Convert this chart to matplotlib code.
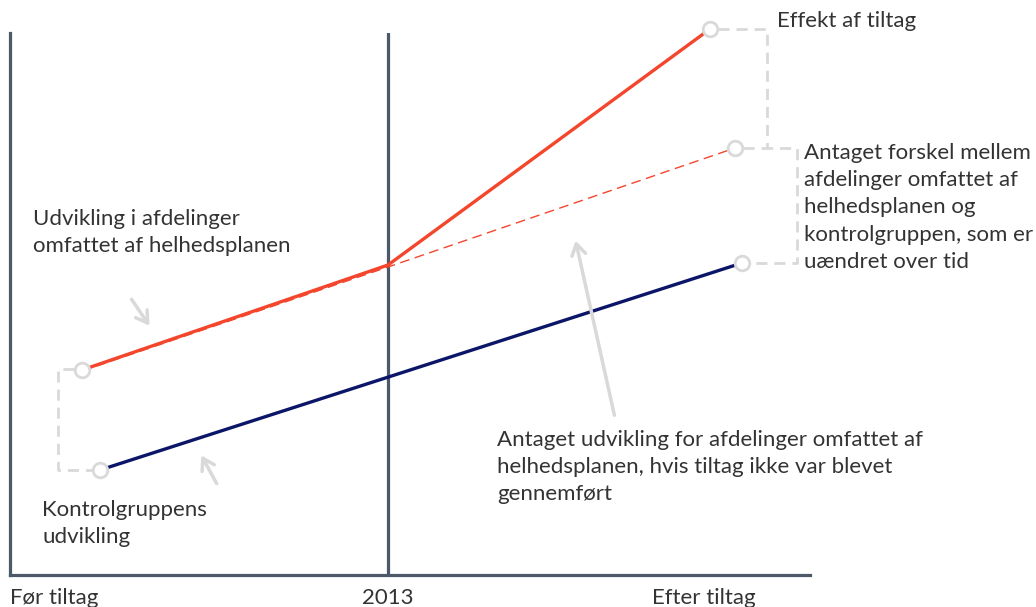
import matplotlib.pyplot as plt

# skematisk forløb (vilkårlige enheder)
tid_roed = [72, 378, 700]
niveau_roed = [205, 310, 546]
tid_antaget = [72, 378, 725]
niveau_antaget = [204, 308, 427]
tid_kontrol = [90, 732]
niveau_kontrol = [105, 312]
tid_2013 = 378
x_etiketter = ['Før tiltag', '2013', 'Efter tiltag']
x_etiket_pos = [0, 378, 642]

ROED = '#f4462c'
NAVY = '#0c1668'
GRAA = '#d9d9d9'
AKSE = '#4b5968'
TEKST = '#333333'

plt.rcParams['font.family'] = ['Lato', 'DejaVu Sans']

fig = plt.figure(figsize=(10.36, 6.07), dpi=100)
ax = fig.add_axes([10 / 1036, 32 / 607, 800 / 1036, 542 / 607])
ax.set_xlim(0, 800)
ax.set_ylim(0, 542)
for side in ['top', 'right']:
    ax.spines[side].set_visible(False)
for side in ['left', 'bottom']:
    ax.spines[side].set_color(AKSE)
    ax.spines[side].set_linewidth(2.3)
ax.set_xticks([])
ax.set_yticks([])
ax.axvline(tid_2013, color=AKSE, lw=2.3)

# stiplede forbindelser
ax.plot([64, 48, 48, 82], [206, 206, 105, 105], color=GRAA, lw=2, ls=(0, (4, 2.5)), clip_on=False)
ax.plot([708, 757, 757, 787, 787, 740], [546, 546, 427, 427, 312, 312],
        color=GRAA, lw=2, ls=(0, (4, 2.5)), clip_on=False)
ax.plot([733, 757], [427, 427], color=GRAA, lw=2, ls=(0, (4, 2.5)), clip_on=False)

ax.plot(tid_antaget, niveau_antaget, color=ROED, lw=1, ls=(0, (7, 4)), clip_on=False)
ax.plot(tid_roed, niveau_roed, color=ROED, lw=2.4, clip_on=False)
ax.plot(tid_kontrol, niveau_kontrol, color=NAVY, lw=2.4, clip_on=False)

# cirkler ved endepunkter
cx = [tid_roed[0], tid_kontrol[0], tid_roed[-1], tid_antaget[-1], tid_kontrol[-1]]
cy = [niveau_roed[0], niveau_kontrol[0], niveau_roed[-1], niveau_antaget[-1], niveau_kontrol[-1]]
ax.scatter(cx, cy, s=110, facecolor='white', edgecolor=GRAA, linewidth=2, zorder=5, clip_on=False)

# pile
pil = dict(arrowstyle='->,head_length=0.8,head_width=0.5', color=GRAA, lw=2.5)
ax.annotate('', xy=(141, 247), xytext=(120, 278), arrowprops=pil)
ax.annotate('', xy=(190, 122), xytext=(208, 89), arrowprops=pil)
ax.annotate('', xy=(565, 337), xytext=(605, 157), arrowprops=pil)

fs = 16
ls = 1.45
ax.text(767, 554, 'Effekt af tiltag', fontsize=fs, color=TEKST, va='center', clip_on=False)
ax.text(794, 432, 'Antaget forskel mellem\nafdelinger omfattet af\nhelhedsplanen og\nkontrolgruppen, som er\nuændret over tid',
        fontsize=fs, color=TEKST, va='top', linespacing=ls, clip_on=False)
ax.text(23, 366, 'Udvikling i afdelinger\nomfattet af helhedsplanen',
        fontsize=fs, color=TEKST, va='top', linespacing=ls)
ax.text(32, 75, 'Kontrolgruppens\nudvikling', fontsize=fs, color=TEKST, va='top', linespacing=ls)
ax.text(487, 145, 'Antaget udvikling for afdelinger omfattet af\nhelhedsplanen, hvis tiltag ikke var blevet\ngennemført',
        fontsize=fs, color=TEKST, va='top', linespacing=ls)

for lbl, xp in zip(x_etiketter, x_etiket_pos):
    ha = 'center' if lbl == '2013' else 'left'
    ax.text(xp, -13, lbl, fontsize=fs, color=TEKST, ha=ha, va='top', clip_on=False)

fig.savefig('out.png', dpi=100)
